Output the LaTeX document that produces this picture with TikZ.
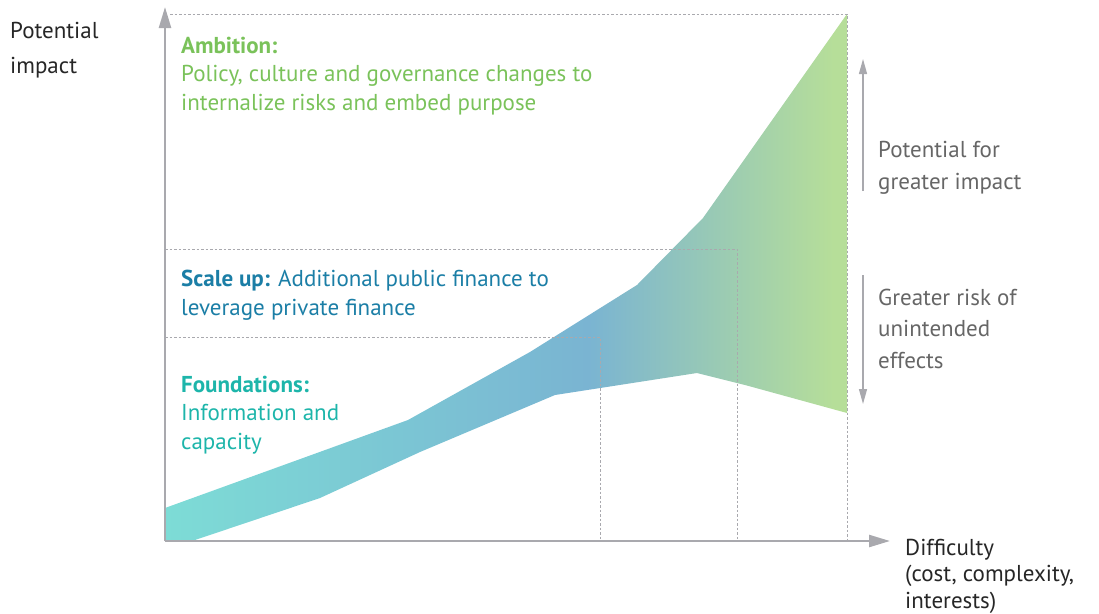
\documentclass[tikz,border=0pt]{standalone}
\usepackage{fontspec}
\setmainfont{PT Sans}
\usetikzlibrary{positioning}
\usetikzlibrary{arrows.meta}
\definecolor{pAmbition}{HTML}{7AC25A}
\definecolor{pScale}{HTML}{1B7EA6}
\definecolor{pFound}{HTML}{1DB5AA}
\definecolor{pAxis}{HTML}{A9A9AE}
\definecolor{pNote}{HTML}{666666}
\definecolor{pTeal}{HTML}{7DDCD6}
\definecolor{pBlue}{HTML}{7AB4D2}
\definecolor{pLime}{HTML}{B6DE99}
\pgfdeclarehorizontalshading{bandShade}{100bp}{color(0bp)=(pTeal); color(25bp)=(pTeal); color(56bp)=(pBlue); color(74bp)=(pLime); color(100bp)=(pLime)}

\begin{document}
\begin{tikzpicture}[x=1pt, y=-1pt,
    axis/.style={draw=pAxis, line width=2.4pt, -{Triangle[length=21pt, width=12pt]}},
    side/.style={draw=pAxis, line width=1.3pt, -{Triangle[length=15pt, width=8pt]}},
    guide/.style={draw=pAxis, line width=0.9pt, dash pattern=on 2.5pt off 2pt},
    txt/.style={anchor=base west, align=left, inner sep=0pt, font=\fontsize{23}{28.5}\selectfont}]
    \useasboundingbox (0,0) rectangle (1099,613);

    \coordinate (origin) at (165,541);
    \coordinate (yTip) at (165,7);
    \coordinate (xTip) at (890,541);

    % impact band
    \shade[shading=bandShade] (165,508) -- (408,420) -- (530,352) -- (637,285) -- (703,218)
      -- (847,14) -- (847,413) -- (745,385) -- (697,373) -- (555,395) -- (420,452)
      -- (320,498) -- (192,541) -- (origin) -- cycle;

    % levels
    \draw[guide] (170,14) -- (847,14) -- (847,541);
    \draw[guide] (165,249) -- (737,249) -- (737,541);
    \draw[guide] (165,337) -- (600,337) -- (600,541);

    \draw[axis] (origin) -- (yTip);
    \draw[axis] (origin) -- (xTip);

    % texts sit on the baseline of their last line
    \node[txt, text=pAmbition] (ambition) at (181,110) {\textbf{Ambition:}\\Policy, culture and governance changes to\\internalize risks and embed purpose};
    \node[txt, text=pScale] (scaleup) at (181,315) {\textbf{Scale up:} Additional public finance to\\leverage private finance};
    \node[txt, text=pFound] (foundations) at (181,449) {\textbf{Foundations:}\\Information and\\capacity};

    \node[txt, font=\fontsize{23}{35}\selectfont, text=black!85] (yLabel) at (10,73) {Potential\\impact};
    \node[txt, font=\fontsize{23}{26.5}\selectfont, text=black!85] (xLabel) at (905,608) {Difficulty\\(cost, complexity,\\interests)};

    \coordinate (gainFrom) at (863,191);
    \coordinate (gainTo) at (863,59);
    \coordinate (riskFrom) at (863,275);
    \coordinate (riskTo) at (863,404);
    \draw[side] (gainFrom) -- (gainTo);
    \draw[side] (riskFrom) -- (riskTo);

    \node[txt, font=\fontsize{23}{32}\selectfont, text=pNote] (gainNote) at (878,189) {Potential for\\greater impact};
    \node[txt, font=\fontsize{23}{31.5}\selectfont, text=pNote] (riskNote) at (878,368) {Greater risk of\\unintended\\effects};

  \end{tikzpicture}
\end{document}
